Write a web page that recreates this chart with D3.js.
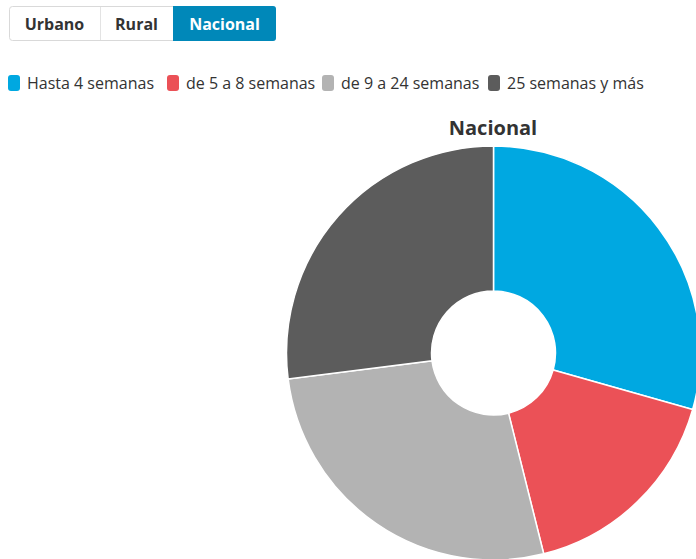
<!DOCTYPE html>
<html><head><meta charset="utf-8">
<script src="https://cdn.jsdelivr.net/npm/d3@7"></script>
<style>
body{margin:0;background:#fff;font-family:"Open Sans",sans-serif;}
</style></head>
<body>
<svg id="c" width="696" height="559"></svg>
<script>
const buttons = ["Urbano","Rural","Nacional"];
const activeButton = "Nacional";
const categories = ["Hasta 4 semanas","de 5 a 8 semanas","de 9 a 24 semanas","25 semanas y más"];
const values = [29.4, 16.7, 26.9, 27.0];
const colors = ["#00a8e1","#eb5157","#b3b3b3","#5c5c5c"];
const title = "Nacional";

const svg = d3.select("#c");

// buttons
const btnX = [9, 100, 173, 276];
const bg = svg.append("g");
bg.append("rect").attr("x",9.5).attr("y",6.5).attr("width",266).attr("height",34).attr("rx",3)
  .attr("fill","#fff").attr("stroke","#d9d9d9");
buttons.forEach((b,i)=>{
  const x0 = btnX[i], x1 = btnX[i+1];
  const act = b===activeButton;
  if(act){
    bg.append("path").attr("d",`M${x0},6 H${x1-3} Q${x1},6 ${x1},9 V38 Q${x1},41 ${x1-3},41 H${x0} Z`).attr("fill","#0088b9");
  } else if(i>0){
    bg.append("line").attr("x1",x0+0.5).attr("x2",x0+0.5).attr("y1",7).attr("y2",40).attr("stroke","#e3e3e3");
  }
  bg.append("text").attr("x",(x0+x1)/2).attr("y",29.5).attr("text-anchor","middle")
    .attr("font-size",16).attr("font-weight",700).attr("fill",act?"#fff":"#333").text(b);
});

// legend
const legX = [8, 167, 322, 488];
const lg = svg.append("g");
categories.forEach((c,i)=>{
  lg.append("rect").attr("x",legX[i]).attr("y",75).attr("width",12).attr("height",16).attr("rx",3).attr("fill",colors[i]);
  lg.append("text").attr("x",legX[i]+19).attr("y",89).attr("font-size",16).attr("fill","#333").text(c);
});

// title
svg.append("text").attr("x",493).attr("y",135).attr("text-anchor","middle")
  .attr("font-size",20).attr("font-weight",700).attr("fill","#333").text(title);

// donut
const cx = 493.5, cy = 353, R = 207, r = 62;
const pie = d3.pie().sort(null).value(d=>d);
const arc = d3.arc().innerRadius(r).outerRadius(R);
svg.append("g").attr("transform",`translate(${cx},${cy})`)
  .selectAll("path").data(pie(values)).join("path")
  .attr("d",arc).attr("fill",(d,i)=>colors[i]).attr("stroke","#fff").attr("stroke-width",1.5);
</script>
</body></html>
